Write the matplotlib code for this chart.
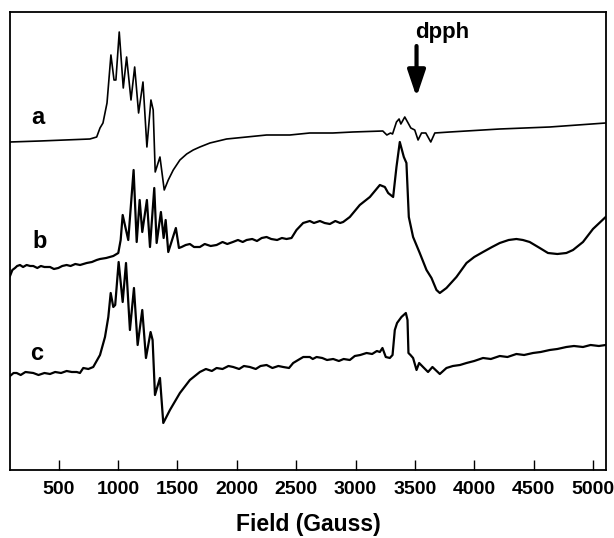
import matplotlib.pyplot as plt

# EPR spectra a, b, c (field in gauss, signal in arbitrary units, offset per trace)
a_field = [90, 343, 763, 820, 848, 873, 907, 940, 966, 982, 1010, 1044, 1072, 1109,
           1140, 1173, 1210, 1243, 1277, 1296, 1313, 1353, 1389, 1423, 1465, 1521,
           1578, 1633, 1689, 1774, 1914, 2083, 2251, 2447, 2615, 2809, 2977, 3230,
           3264, 3295, 3312, 3345, 3367, 3382, 3415, 3443, 3466, 3499, 3527, 3556,
           3592, 3634, 3668, 3794, 4215, 4636, 5107]
a_signal = [328, 329, 331, 333, 342, 347, 367, 415, 390, 390, 438, 382, 413, 370,
            403, 357, 388, 323, 370, 360, 298, 313, 280, 290, 300, 310,
            316, 320, 323, 327, 331, 333, 335, 335, 337, 337, 338, 339,
            335, 337, 336, 348, 351, 346, 353, 347, 342, 340, 330, 337,
            337, 328, 337, 338, 341, 343, 347]

b_field = [90, 110, 132, 150, 174, 200, 230, 260, 286, 320, 350, 380, 427, 460,
           497, 530, 567, 600, 640, 680, 736, 780, 820, 848, 900, 960, 1002, 1022,
           1039, 1086, 1131, 1157, 1182, 1204, 1243, 1269, 1305, 1325, 1361, 1384,
           1401, 1423, 1487, 1513, 1535, 1570, 1605, 1640, 1689, 1730, 1780, 1830,
           1880, 1920, 1967, 2010, 2050, 2083, 2130, 2170, 2210, 2251, 2290, 2340,
           2380, 2419, 2461, 2503, 2559, 2615, 2650, 2700, 2740, 2784, 2830, 2870,
           2896, 2952, 3036, 3121, 3205, 3247, 3275, 3317, 3345, 3373, 3407, 3429,
           3449, 3485, 3541, 3598, 3640, 3682, 3710, 3766, 3850, 3935, 4000, 4074,
           4150, 4215, 4290, 4355, 4410, 4467, 4552, 4621, 4700, 4776, 4832, 4916,
           5000, 5107]
b_signal = [194, 200, 202, 204, 205, 203, 205, 204, 204, 202, 204, 203, 203, 201,
            202, 204, 205, 204, 206, 205, 207, 208, 210, 211, 212, 214, 217, 230,
            255, 230, 300, 228, 270, 238, 270, 223, 282, 227, 258, 232,
            250, 218, 242, 222, 223, 225, 226, 223, 223, 226, 224, 225,
            228, 226, 228, 230, 228, 230, 231, 229, 232, 233, 231, 230,
            232, 231, 232, 240, 247, 249, 247, 249, 247, 246, 249, 247,
            248, 253, 265, 273, 285, 283, 277, 273, 303, 328, 313, 307,
            253, 233, 217, 200, 192, 180, 177, 182, 193, 207, 213, 218,
            223, 227, 230, 231, 230, 228, 222, 217, 216, 217, 220, 228,
            241, 253]

c_field = [90, 120, 146, 180, 220, 286, 330, 380, 427, 470, 520, 567, 610, 652,
           679, 707, 750, 791, 848, 890, 918, 938, 960, 976, 1005, 1039, 1067, 1100,
           1134, 1165, 1204, 1235, 1274, 1291, 1311, 1353, 1381, 1437, 1521, 1605,
           1689, 1740, 1790, 1830, 1880, 1930, 1970, 2020, 2060, 2110, 2160, 2200,
           2251, 2300, 2350, 2391, 2440, 2475, 2517, 2560, 2615, 2640, 2672, 2720,
           2760, 2812, 2860, 2900, 2952, 2994, 3040, 3093, 3140, 3180, 3205, 3227,
           3255, 3289, 3312, 3331, 3350, 3387, 3424, 3438, 3446, 3463, 3485, 3514,
           3536, 3569, 3611, 3648, 3710, 3766, 3820, 3880, 3935, 4000, 4074, 4140,
           4215, 4280, 4355, 4420, 4495, 4560, 4636, 4700, 4776, 4840, 4916, 4980,
           5050, 5107]
c_signal = [94, 97, 97, 95, 98, 97, 95, 97, 96, 98, 97, 99, 98, 98,
            97, 102, 101, 103, 115, 133, 153, 177, 163, 165, 208, 168, 207, 140,
            182, 125, 160, 112, 138, 130, 75, 92, 47, 60, 77, 90,
            98, 101, 99, 102, 101, 104, 103, 101, 104, 103, 101, 104,
            105, 102, 104, 103, 102, 107, 110, 113, 113, 111, 113, 112,
            110, 111, 109, 111, 110, 114, 115, 117, 116, 119, 118, 122,
            113, 112, 115, 140, 147, 153, 157, 150, 117, 115, 112, 100,
            107, 103, 98, 103, 96, 102, 104, 105, 107, 109, 112, 111,
            114, 113, 116, 115, 117, 118, 120, 121, 123, 124, 123, 125,
            124, 125]

trace_labels = ['a', 'b', 'c']
label_pos = [(322, 352), (343, 228), (311, 116)]
field_ticks = [500, 1000, 1500, 2000, 2500, 3000, 3500, 4000, 4500, 5000]
dpph_field = 3514

plt.rcParams['font.family'] = ['Liberation Sans', 'DejaVu Sans']

fig = plt.figure(figsize=(6.14, 5.38), dpi=100)
ax = fig.add_axes([0.0163, 0.1264, 0.9707, 0.8513])

ax.plot(a_field, a_signal, color='black', lw=1.2)
ax.plot(b_field, b_signal, color='black', lw=1.6)
ax.plot(c_field, c_signal, color='black', lw=1.6)

for lab, (x, y) in zip(trace_labels, label_pos):
    ax.text(x, y, lab, fontsize=17, fontweight='bold', ha='center', va='center')

# dpph reference marker
ax.annotate('', xy=(dpph_field, 373), xytext=(dpph_field, 424),
            arrowprops=dict(arrowstyle='-|>,head_length=0.8,head_width=0.27',
                            lw=3, color='black', mutation_scale=20,
                            shrinkA=0, shrinkB=0))
ax.text(dpph_field - 15, 437, 'dpph', fontsize=16, fontweight='bold',
        ha='left', va='center')

ax.set_xlim(90, 5110)
ax.set_ylim(0, 458)
ax.set_xticks(field_ticks)
ax.set_yticks([])
ax.tick_params(axis='x', direction='in', length=7, width=1.0, pad=8,
               labelsize=14)
for t in ax.get_xticklabels():
    t.set_fontweight('bold')
for s in ax.spines.values():
    s.set_linewidth(1.3)
ax.set_xlabel('Field (Gauss)', fontsize=16.5, fontweight='bold', labelpad=11)

fig.savefig('out.png', dpi=100)
